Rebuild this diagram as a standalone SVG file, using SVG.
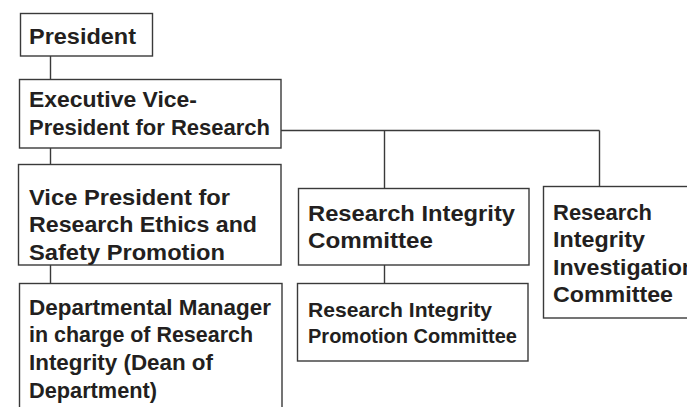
<svg xmlns="http://www.w3.org/2000/svg" width="687" height="407" viewBox="0 0 687 407">
<style>
.box{fill:#ffffff;stroke:#3a3a3a;stroke-width:1.4}
.ln{fill:none;stroke:#3a3a3a;stroke-width:1.4}
text{font-family:"Liberation Sans",Arial,sans-serif;font-weight:bold;font-size:22px;fill:#231f20}
.s{font-size:20.5px}
</style>
<rect width="687" height="407" fill="#ffffff"/>
<g id="connectors">
<path class="ln" d="M50.5 56V79M50.5 148V164M50.5 265V283M281 130.5H599.5M384.5 130.5V188M599.5 130.5V186M384.5 265V283"/>
</g>
<g id="president">
<rect class="box" x="20.5" y="13.5" width="132" height="42.5"/>
<text x="29" y="43.5" textLength="107" lengthAdjust="spacingAndGlyphs">President</text>
</g>
<g id="evp">
<rect class="box" x="19.5" y="79.5" width="261.5" height="68.5"/>
<text x="29" y="107" textLength="168" lengthAdjust="spacingAndGlyphs">Executive Vice-</text>
<text x="29" y="135" textLength="241" lengthAdjust="spacingAndGlyphs">President for Research</text>
</g>
<g id="vp">
<rect class="box" x="18.5" y="164.5" width="262.5" height="100.5"/>
<text x="29" y="204.5" textLength="201" lengthAdjust="spacingAndGlyphs">Vice President for</text>
<text x="29" y="232" textLength="228" lengthAdjust="spacingAndGlyphs">Research Ethics and</text>
<text x="29" y="259.5" textLength="196" lengthAdjust="spacingAndGlyphs">Safety Promotion</text>
</g>
<g id="dept">
<rect class="box" x="19.5" y="283.5" width="262.5" height="140"/>
<text x="29" y="314.5" textLength="242" lengthAdjust="spacingAndGlyphs">Departmental Manager</text>
<text x="29" y="342" textLength="224" lengthAdjust="spacingAndGlyphs">in charge of Research</text>
<text x="29" y="370" textLength="184" lengthAdjust="spacingAndGlyphs">Integrity (Dean of</text>
<text x="29" y="398" textLength="128" lengthAdjust="spacingAndGlyphs">Department)</text>
</g>
<g id="ric">
<rect class="box" x="298.5" y="188.5" width="230.5" height="76.5"/>
<text x="308" y="221" textLength="207" lengthAdjust="spacingAndGlyphs">Research Integrity</text>
<text x="308" y="248" textLength="125" lengthAdjust="spacingAndGlyphs">Committee</text>
</g>
<g id="ripc">
<rect class="box" x="297.5" y="283.5" width="230.5" height="77.5"/>
<text class="s" x="308" y="316.5" textLength="184" lengthAdjust="spacingAndGlyphs">Research Integrity</text>
<text class="s" x="308" y="343" textLength="209" lengthAdjust="spacingAndGlyphs">Promotion Committee</text>
</g>
<g id="riic">
<rect class="box" x="543.5" y="186.5" width="160" height="131.5"/>
<text x="553" y="220" textLength="99" lengthAdjust="spacingAndGlyphs">Research</text>
<text x="553" y="247" textLength="92" lengthAdjust="spacingAndGlyphs">Integrity</text>
<text x="553" y="274.5" textLength="143" lengthAdjust="spacingAndGlyphs">Investigation</text>
<text x="553" y="302" textLength="120" lengthAdjust="spacingAndGlyphs">Committee</text>
</g>
</svg>
